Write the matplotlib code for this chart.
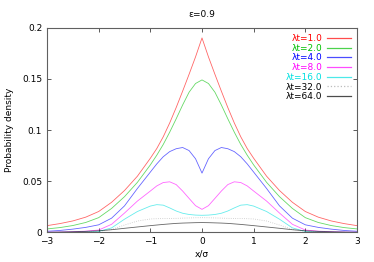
import numpy as np
import matplotlib
matplotlib.use("Agg")
import matplotlib.pyplot as plt

# left half of the x grid (x/sigma); right half is the mirror image
x_left = [-3.0, -2.75, -2.5, -2.25, -2.0, -1.75, -1.5, -1.25, -1.0,
          -0.875, -0.75, -0.625, -0.5, -0.375, -0.25, -0.125, 0.0]

# probability density (left half, curves are symmetric)
p_lt1 = [0.0067, 0.0087, 0.0113, 0.0150, 0.0205, 0.0295, 0.0410, 0.0550, 0.0725,
         0.0820, 0.0935, 0.1070, 0.1220, 0.1380, 0.1545, 0.1715, 0.1900]
p_lt2 = [0.0035, 0.0048, 0.0068, 0.0098, 0.0145, 0.0235, 0.0350, 0.0490, 0.0660,
         0.0755, 0.0860, 0.0980, 0.1110, 0.1245, 0.1370, 0.1455, 0.1490]
p_lt4 = [0.0012, 0.0020, 0.0033, 0.0050, 0.0075, 0.0140, 0.0260, 0.0430, 0.0590,
         0.0670, 0.0740, 0.0790, 0.0818, 0.0830, 0.0800, 0.0720, 0.0580]
p_lt8 = [0.0003, 0.0005, 0.0008, 0.0013, 0.0024, 0.0080, 0.0190, 0.0307, 0.0405,
         0.0455, 0.0488, 0.0495, 0.0468, 0.0405, 0.0333, 0.0262, 0.0226]
p_lt16 = [0.0001, 0.0002, 0.0003, 0.0005, 0.0010, 0.0045, 0.0130, 0.0205, 0.0258,
          0.0272, 0.0267, 0.0240, 0.0210, 0.0188, 0.0176, 0.0170, 0.0168]
p_lt32 = [0.0000, 0.0001, 0.0002, 0.0004, 0.0010, 0.0030, 0.0073, 0.0112, 0.0132,
          0.0135, 0.0136, 0.0137, 0.0138, 0.0140, 0.0142, 0.0144, 0.0145]
p_lt64 = [0.0002, 0.0004, 0.0007, 0.0011, 0.0017, 0.0027, 0.0041, 0.0054, 0.0067,
          0.0073, 0.0079, 0.0084, 0.0089, 0.0092, 0.0094, 0.0096, 0.0097]

labels = ["λt=1.0", "λt=2.0", "λt=4.0", "λt=8.0", "λt=16.0", "λt=32.0", "λt=64.0"]


def full(vals):
    # mirror the left half onto the right half
    return np.concatenate([vals, vals[-2::-1]])


x = np.concatenate([x_left, [-v for v in x_left[-2::-1]]])
series = [p_lt1, p_lt2, p_lt4, p_lt8, p_lt16, p_lt32, p_lt64]
colors = ["#ff0000", "#00c000", "#0000ff", "#ff00ff", "#00e0e0", "#a0a0a0", "#000000"]
text_colors = ["#ff0000", "#00c000", "#0000ff", "#ff00ff", "#00e0e0", "#000000", "#000000"]
styles = ["-", "-", "-", "-", "-", ":", "-"]

plt.rcParams["font.family"] = ["DejaVu Sans"]
fig = plt.figure(figsize=(3.74, 2.62), dpi=100)
ax = fig.add_axes([0.1257, 0.1126, 0.8288, 0.7817])

for vals, lab, c, ls in zip(series, labels, colors, styles):
    ax.plot(x, full(vals), color=c, ls=ls, lw=0.6, alpha=0.6, label=lab)

ax.set_xlim(-3, 3)
ax.set_ylim(0, 0.2)
ax.set_xticks([-3, -2, -1, 0, 1, 2, 3])
ax.set_yticks([0, 0.05, 0.1, 0.15, 0.2])
ax.set_yticklabels(["0", "0.05", "0.1", "0.15", "0.2"])
ax.tick_params(direction="in", length=3, width=0.6, labelsize=6.5,
               top=True, right=True, colors="#404040", labelcolor="black")
for s in ax.spines.values():
    s.set_linewidth(0.8)
    s.set_color("#606060")

ax.set_xlabel("x/σ", fontsize=6.5, labelpad=2)
ax.set_ylabel("Probability density", fontsize=6.5, labelpad=6)
ax.set_title("ε=0.9", fontsize=6.5, pad=8)

leg = ax.legend(loc="upper right", frameon=False, markerfirst=False,
                fontsize=6.5, handlelength=2.6, handletextpad=0.5,
                labelspacing=0.08, borderaxespad=0.5, borderpad=0.2)
for t, tc in zip(leg.get_texts(), text_colors):
    t.set_color(tc)
    t.set_horizontalalignment("right")
for h, c in zip(leg.get_lines(), colors):
    h.set_color(c)
    h.set_alpha(0.7)
    h.set_linewidth(0.9)

fig.savefig("out.png", dpi=100)
